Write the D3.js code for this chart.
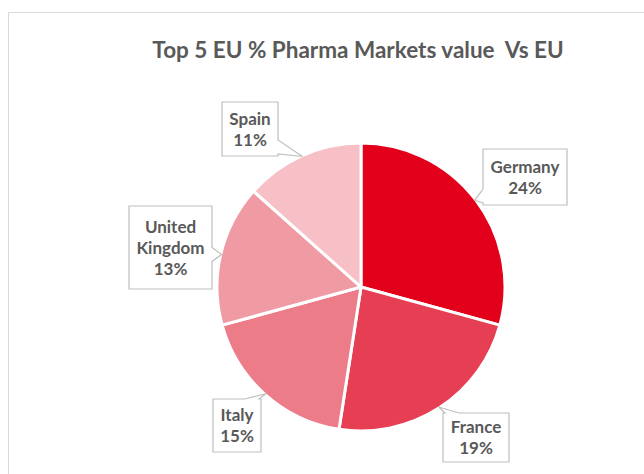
<!DOCTYPE html>
<html>
<head>
<meta charset="utf-8">
<script src="https://cdn.jsdelivr.net/npm/d3@7"></script>
<style>
  body { margin: 0; background: #fff; }
  svg { display: block; }
</style>
</head>
<body>
<svg id="chart"></svg>
<script>
let countries = ["Germany", "France", "Italy", "United Kingdom", "Spain"];
let shares = [24, 19, 15, 13, 11];
let palette = ["#e2001a", "#e63f54", "#ec7c88", "#f09aa3", "#f6c0c6"];

// callout boxes (x, y, width, height) in page pixels
let boxes = [
    [483, 149, 84, 56],
    [443, 413, 66, 49],
    [213, 399, 48, 53],
    [129, 206, 83, 83],
    [222, 102, 56, 54]
];

function calloutPath(b, tip) {
    let [x, y, w, h] = b;
    let x2 = x + w, y2 = y + h;
    let half = 7, pad = 2;
    let dx = tip[0] < x ? x - tip[0] : (tip[0] > x2 ? tip[0] - x2 : 0);
    let dy = tip[1] < y ? y - tip[1] : (tip[1] > y2 ? tip[1] - y2 : 0);
    let clamp = (v, a, b) => Math.max(a + half + pad, Math.min(b - half - pad, v));
    let p = d3.path();
    if (dy > dx && tip[1] < y) {
        // top edge
        let c = clamp(tip[0], x, x2);
        p.moveTo(x, y); p.lineTo(c - half, y); p.lineTo(tip[0], tip[1]); p.lineTo(c + half, y);
        p.lineTo(x2, y); p.lineTo(x2, y2); p.lineTo(x, y2); p.closePath();
    } else if (dy > dx) {
        // bottom edge
        let c = clamp(tip[0], x, x2);
        p.moveTo(x, y); p.lineTo(x2, y); p.lineTo(x2, y2);
        p.lineTo(c + half, y2); p.lineTo(tip[0], tip[1]); p.lineTo(c - half, y2);
        p.lineTo(x, y2); p.closePath();
    } else if (tip[0] > x2) {
        // right edge
        let c = clamp(tip[1], y, y2);
        p.moveTo(x, y); p.lineTo(x2, y); p.lineTo(x2, c - half); p.lineTo(tip[0], tip[1]);
        p.lineTo(x2, c + half); p.lineTo(x2, y2); p.lineTo(x, y2); p.closePath();
    } else {
        // left edge
        let c = clamp(tip[1], y, y2);
        p.moveTo(x, y); p.lineTo(x2, y); p.lineTo(x2, y2); p.lineTo(x, y2);
        p.lineTo(x, c + half); p.lineTo(tip[0], tip[1]); p.lineTo(x, c - half); p.closePath();
    }
    return p.toString();
}

function createPie() {
    let w = 644, h = 474;
    let cx = 361, cy = 287, radius = 144;

    let svg = d3.select("#chart")
        .attr("width", w)
        .attr("height", h);

    // chart area border
    svg.append("rect")
        .attr("x", 8.5).attr("y", 12.5)
        .attr("width", w).attr("height", h)
        .attr("fill", "#fff")
        .attr("stroke", "#d9d9d9");

    svg.append("text")
        .attr("x", 358).attr("y", 58)
        .attr("text-anchor", "middle")
        .attr("font-family", "Lato, 'Open Sans', sans-serif")
        .attr("font-weight", "bold")
        .attr("font-size", 22.5)
        .attr("fill", "#595959")
        .attr("xml:space", "preserve")
        .text("Top 5 EU % Pharma Markets value  Vs EU");

    let color = d3.scaleOrdinal().domain(countries).range(palette);

    let pie = d3.pie().sort(null).value(d => d.share);
    let data = countries.map((c, i) => ({country: c, share: shares[i], box: boxes[i]}));
    let arcs = pie(data);

    let arc = d3.arc().innerRadius(0).outerRadius(radius);

    let g = svg.append("g").attr("transform", `translate(${cx},${cy})`);

    g.selectAll("path")
        .data(arcs)
        .enter().append("path")
        .attr("d", arc)
        .attr("fill", d => color(d.data.country))
        .attr("stroke", "#fff")
        .attr("stroke-width", 3)
        .attr("stroke-linejoin", "round");

    // callouts
    let tipArc = d3.arc().innerRadius(radius - 1).outerRadius(radius - 1);
    let labels = svg.append("g");

    arcs.forEach(d => {
        let c = tipArc.centroid(d);
        let tip = [cx + c[0], cy + c[1]];
        let b = d.data.box;
        labels.append("path")
            .attr("d", calloutPath(b, tip))
            .attr("fill", "#fff")
            .attr("stroke", "#bfbfbf")
            .attr("stroke-width", 1.2)
            .attr("stroke-linejoin", "miter");

        let lines = d.data.country.split(" ").concat([d.data.share + "%"]);
        let mid = b[1] + b[3] / 2;
        let t = labels.append("text")
            .attr("text-anchor", "middle")
            .attr("font-family", "Lato, 'Open Sans', sans-serif")
            .attr("font-weight", "bold")
            .attr("font-size", 17)
            .attr("fill", "#595959");
        lines.forEach((s, i) => {
            t.append("tspan")
                .attr("x", b[0] + b[2] / 2)
                .attr("y", mid + (i - (lines.length - 1) / 2) * 21 + 6)
                .text(s);
        });
    });
}

window.onload = function() {
    createPie();
}
</script>
</body>
</html>
